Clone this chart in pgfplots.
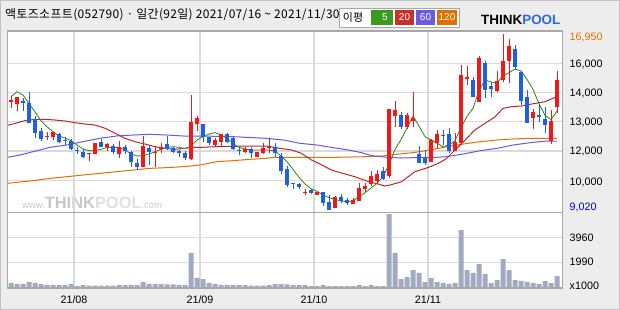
\documentclass[border=0pt]{standalone}
\usepackage{fontspec}
\setmainfont{Liberation Sans}
\newfontfamily\kr{Noto Sans CJK KR}
\newfontfamily\krt[LetterSpace=2.9]{Noto Sans CJK KR}
\usepackage{pgfplots}
\pgfplotsset{compat=1.18}
\usepackage{pgfplotstable}

\definecolor{bg}{HTML}{EDEDED}
\definecolor{gridc}{HTML}{DADADA}
\definecolor{framec}{HTML}{A8A8A8}
\definecolor{upc}{HTML}{F01818}
\definecolor{dnc}{HTML}{1F5FE0}
\definecolor{ma5}{HTML}{3C8F22}
\definecolor{ma20}{HTML}{B8282A}
\definecolor{ma60}{HTML}{6A5AE0}
\definecolor{ma120}{HTML}{E07000}
\definecolor{volc}{HTML}{A2AAC2}
\definecolor{wm}{HTML}{C8C8C8}
\definecolor{wm2}{HTML}{E0E0E0}
\definecolor{lg5}{HTML}{3C9A1E}
\definecolor{lg20}{HTML}{C8302C}
\definecolor{lg60}{HTML}{6A5ADC}
\definecolor{lg120}{HTML}{DA7000}
\definecolor{logob}{HTML}{2A6BD8}

\pgfplotstableread{
i o h l c
0 13901 14171 13630 13976
1 13811 14096 13480 14096
6 12324 12549 12173 12369
7 12324 12519 12173 12519
13 11528 11573 11242 11573
14 11558 12053 11528 12023
16 11873 12053 11693 11978
18 11558 12128 11347 11873
22 10972 12354 10972 11903
24 11573 11903 10972 11618
25 11783 12023 11573 11843
30 11317 14201 11272 12999
31 12879 13255 12594 13150
34 11963 12249 11903 12173
35 12068 12429 11873 12429
39 11633 11873 11573 11783
41 11422 11633 11422 11633
42 11603 12023 11543 11813
43 11798 12204 11603 11843
49 9800 9950 9695 9845
51 9710 9845 9710 9845
54 9125 9650 9125 9620
57 9290 9545 9290 9470
58 9425 10251 9425 10026
59 9950 10251 9845 10116
60 10191 10792 10101 10566
61 10341 10822 10191 10641
63 10566 13570 10446 13570
64 13255 13931 12774 13525
66 12744 13405 12669 13300
67 13045 14321 12774 13180
70 11197 12204 11197 12173
71 12023 12624 11798 12444
74 11693 12474 11693 12068
75 12023 15553 11993 15102
76 14907 15508 14652 14997
78 13901 15958 13901 15868
81 14381 15283 14351 14832
82 14877 16950 14802 15733
83 15748 16709 14757 16424
87 13180 13555 12669 13450
90 12143 13525 11993 13029
91 13675 15298 13375 14877
}\up

\pgfplotstableread{
i o h l c
2 13916 14081 13480 13841
3 13856 14336 12954 12954
4 13135 13255 12279 12504
5 12564 12699 12143 12219
8 12444 12474 12053 12098
9 12189 12294 11948 12113
10 12113 12234 11723 11753
11 11723 11873 11528 11678
12 11633 11768 11347 11407
15 12068 12204 11843 11873
17 11903 11993 11543 11618
19 11873 11948 11528 11693
20 11648 11693 10972 11167
21 11137 11302 10822 10972
23 11828 11948 11047 11618
26 11993 12354 11723 11768
27 11813 11873 11573 11618
28 11693 11723 11392 11573
29 11603 11693 11272 11347
32 12894 12894 12098 12324
33 12294 12324 11948 12023
36 12429 12474 12023 12098
37 12264 12324 11723 11753
38 11723 11843 11513 11678
40 11753 11873 11377 11573
44 11873 12023 11422 11603
45 11453 11603 10641 10792
46 10867 11002 10071 10146
47 10236 10236 9981 10176
48 10206 10251 9966 10071
50 9920 9966 9740 9800
52 9815 9815 9200 9350
53 9395 9695 9020 9020
55 9590 9725 9320 9425
56 9470 9545 9245 9350
62 10777 10972 10371 10416
65 13300 13450 12669 12774
68 11543 11903 11152 11152
69 11362 11723 11047 11152
72 12399 12624 11948 12354
73 12429 12699 11603 11693
77 14877 14997 14126 14126
79 15643 15748 14051 14426
80 14607 14802 14126 14487
84 16274 16454 15358 15478
85 15253 15298 13751 13946
86 14126 14426 12924 12954
88 13300 13751 12999 13195
89 13105 13645 12504 12849
}\down

\pgfplotstableread{
i p
0 14126
1 14351
2 14201
3 13826
4 13435
5 13045
6 12774
7 12549
8 12354
9 12264
10 12143
11 11948
12 11768
13 11693
14 11693
15 11753
16 11843
17 11843
18 11843
19 11723
20 11543
21 11453
22 11468
23 11543
24 11648
25 11753
26 11843
27 11873
28 11843
29 11783
30 11903
31 12173
32 12324
33 12444
34 12504
35 12414
36 12249
37 12023
38 11843
39 11768
40 11723
41 11723
42 11723
43 11723
44 11678
45 11453
46 11197
47 10852
48 10491
49 10191
50 9980
51 9860
52 9695
53 9575
54 9500
55 9425
56 9395
57 9440
58 9620
59 9800
60 10011
61 10221
62 10521
63 11062
64 11753
65 12189
66 12714
67 13255
68 12804
69 12324
70 12173
71 12023
72 11873
73 11948
74 12143
75 12729
76 13240
77 13600
78 14396
79 14877
80 14787
81 14742
82 15072
83 15207
84 15373
85 15283
86 14907
87 14456
88 13811
89 13285
90 13090
91 13480
}\maA

\pgfplotstableread{
i p
-0.6 12834
0.7 12924
2.3 13045
4 13105
5.7 13105
7.3 13075
9 13029
10.7 12954
12.3 12894
14 12849
15.7 12699
16.8 12549
17.7 12429
19 12249
20.7 12098
22.3 11993
24 11873
25.7 11798
27.3 11753
29 11798
30.1 11843
31.8 11843
34 11873
36 11888
42.6 11903
44.8 11798
46.8 11723
48.4 11573
50.1 11272
51.8 11047
53.4 10822
54.3 10746
55.7 10641
57.3 10521
59.6 10296
61.2 10191
62.3 10101
63.2 10146
65.1 10296
67.3 10746
69.6 10942
71.2 11122
72.5 11317
74 11723
75.7 12173
77.3 12624
79 12924
80.7 13225
82 13600
83.4 13675
85.1 13706
86.8 13796
89 13901
90.7 14096
91 14126
}\maB

\pgfplotstableread{
i p
-0.6 11393
1.5 11498
3.7 11648
6.5 11843
9.3 11948
12 12098
14.8 12249
17.6 12354
20.4 12399
23.2 12429
25.9 12399
28.7 12354
31.5 12354
37 12324
42.6 12249
45.4 12173
48.2 12023
51 11948
53.7 11828
56.3 11723
58.4 11603
60.1 11468
62.3 11407
65 11362
67 11377
69.8 11377
72.6 11422
75.4 11543
78.2 11693
81 11798
83.7 11948
86.5 12053
89.3 12128
91 12128
}\maC

\pgfplotstableread{
i p
-0.6 10221
3.7 10341
6.5 10446
9.3 10521
12 10596
14.8 10671
17.6 10746
20.4 10822
23.2 10897
25.9 10927
28.7 10972
31.5 11047
34.3 11197
37 11242
39.8 11302
42.6 11347
43.7 11392
48.2 11392
53.7 11392
59.3 11422
62 11453
63.7 11513
64.8 11543
67 11603
69.8 11723
72.6 11873
75.4 11993
78.2 12098
81 12173
83.7 12219
86.5 12249
89.3 12249
91 12249
}\maD

\pgfplotstableread{
i v
0 345
1 292
2 292
3 451
4 345
5 265
6 212
7 212
8 186
9 186
10 292
11 133
12 186
13 159
14 159
15 159
16 159
17 159
18 186
19 186
20 212
21 212
22 451
23 292
24 292
25 265
26 239
27 239
28 212
29 212
30 2760
31 770
32 663
33 371
34 265
35 212
36 212
37 212
38 186
39 186
40 159
41 159
42 159
43 186
44 265
45 265
46 239
47 212
48 186
49 186
50 106
51 106
52 186
53 106
54 106
55 106
56 106
57 106
58 186
59 106
60 186
61 106
62 106
63 5837
64 2760
65 663
66 822
67 1380
68 1167
69 424
70 743
71 424
72 345
73 292
74 345
75 4564
76 1380
77 1167
78 1857
79 1061
80 345
81 584
82 2255
83 1380
84 584
85 531
86 451
87 345
88 292
89 504
90 345
91 902
}\vol

\pgfplotsset{panel/.style={
  scale only axis, xmin=-0.617, xmax=91.95, width=555.4bp,
  axis line style={draw=none},
  xtick={10.5,31.5,50.5,69.5}, xticklabels={}, yticklabels={},
  scaled y ticks=false, scaled x ticks=false,
  major tick length=0pt, xmajorgrids, ymajorgrids,
  grid style={gridc, line width=1.3bp}},
  wick/.style={mark=none, line width=1bp, quiver={u=0, v={\thisrow{h}-\thisrow{l}}}},
  body/.style={mark=none, line width=4.8bp, quiver={u=0, v={\thisrow{c}-\thisrow{o}}}}}

\begin{document}
\begin{tikzpicture}
\path[use as bounding box] (0bp,0bp) rectangle (620bp,310bp);
\fill[bg] (0bp,0bp) rectangle (620bp,310bp);
\draw[framec!70, line width=1bp] (0.5bp,0.5bp) rectangle (619.5bp,309.5bp);
\fill[white] (7.3bp,22bp) rectangle (562.7bp,279bp);

% watermark
\node[anchor=base west, inner sep=0pt] at (22bp,101.5bp) {\textcolor{wm}{\fontsize{9.5}{9.5}\selectfont www.}\textcolor{wm}{\fontsize{16.5}{16.5}\selectfont\bfseries THINK}\textcolor{wm2}{\fontsize{16.5}{16.5}\selectfont\bfseries POOL}\textcolor{wm}{\fontsize{9.5}{9.5}\selectfont .com}};

% price panel
\begin{axis}[panel, at={(7.3bp,97.5bp)}, anchor=south west, height=181bp,
  ymin=8907, ymax=17063, ytick={10340,11678,13016,14323,15630}]
\addplot[ma120, line width=1bp] table[x=i,y=p] {\maD};
\addplot[ma60, line width=1bp] table[x=i,y=p] {\maC};
\addplot[ma20, line width=1bp] table[x=i,y=p] {\maB};
\addplot[ma5, line width=0.9bp] table[x=i,y=p] {\maA};
\addplot[upc, wick] table[x=i, y=l] {\up};
\addplot[upc, body] table[x=i, y=o] {\up};
\addplot[dnc, wick] table[x=i, y=l] {\down};
\addplot[dnc, body] table[x=i, y=o] {\down};
\end{axis}

% volume panel
\begin{axis}[panel, at={(7.3bp,22.5bp)}, anchor=south west, height=75bp,
  ymin=0, ymax=5970, ytick={1990,3960}]
\addplot[ybar, bar width=5bp, fill=volc, draw=none] table[x=i,y=v] {\vol};
\end{axis}

% frame
\draw[framec, line width=1.2bp] (7.3bp,22bp) rectangle (562.7bp,279bp);
\draw[framec, line width=1.2bp] (7.3bp,97.5bp) -- (562.7bp,97.5bp);

% right labels
\begin{scope}[every node/.style={anchor=west, inner sep=0pt, font=\fontsize{10.8}{12}\selectfont}]
\node[text=ma120] at (569.5bp,273bp) {16,950};
\node at (569.5bp,246bp) {16,000};
\node at (569.5bp,217bp) {14,000};
\node at (569.5bp,188bp) {13,000};
\node at (569.5bp,159bp) {12,000};
\node at (569.5bp,128bp) {10,000};
\node[text=blue!80!black] at (569.5bp,103bp) {9,020};
\node at (569.5bp,72bp) {3960};
\node at (569.5bp,48bp) {1990};
\node at (569.5bp,24bp) {x1000};
\end{scope}

% x labels
\begin{scope}[every node/.style={anchor=center, inner sep=0pt, font=\fontsize{10.8}{12}\selectfont}]
\node at (74bp,10bp) {21/08};
\node at (200bp,10bp) {21/09};
\node at (314bp,10bp) {21/10};
\node at (428bp,10bp) {21/11};
\end{scope}

% title
\node[anchor=west, inner sep=0pt] at (5bp,295bp) {\krt\fontsize{12}{14}\selectfont 액토즈소프트(052790) · 일간(92일) 2021/07/16 \textasciitilde{} 2021/11/30};

% legend box
\draw[framec, fill=white] (339bp,283bp) rectangle (459bp,302bp);
\node[anchor=center, inner sep=0pt] at (353bp,292.5bp) {\kr\fontsize{11}{12}\selectfont 이평};
\fill[lg5] (371bp,285bp) rectangle (393bp,300bp);
\fill[lg20] (395bp,285bp) rectangle (414bp,300bp);
\fill[lg60] (416bp,285bp) rectangle (435bp,300bp);
\fill[lg120] (437bp,285bp) rectangle (457bp,300bp);
\begin{scope}[every node/.style={anchor=center, inner sep=0pt, text=white, font=\fontsize{10}{12}\selectfont}]
\node at (385bp,292.5bp) {5};
\node at (404.5bp,292.5bp) {20};
\node at (425.5bp,292.5bp) {60};
\node at (447bp,292.5bp) {120};
\end{scope}

% logo
\node[anchor=west, inner sep=0pt] at (481bp,290bp) {\fontsize{13.5}{13.5}\selectfont\bfseries THINK\textcolor{logob}{POOL}};
\end{tikzpicture}
\end{document}
